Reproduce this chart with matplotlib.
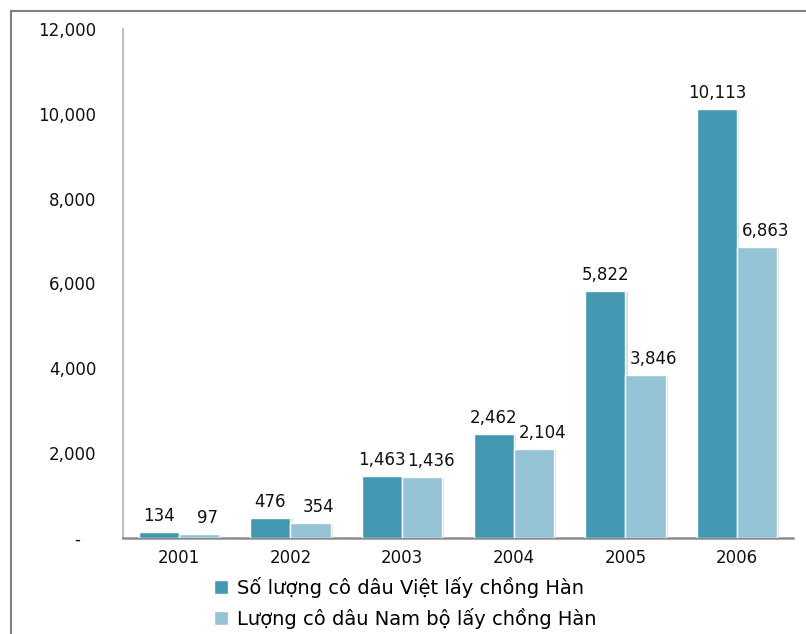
import matplotlib
matplotlib.use("Agg")
import matplotlib.pyplot as plt
import matplotlib.patheffects as pe
from matplotlib.lines import Line2D
from matplotlib.patches import Patch
import numpy as np

years = ["2001", "2002", "2003", "2004", "2005", "2006"]
viet = [134, 476, 1463, 2462, 5822, 10113]
nambo = [97, 354, 1436, 2104, 3846, 6863]
series_names = ["Số lượng cô dâu Việt lấy chồng Hàn",
                "Lượng cô dâu Nam bộ lấy chồng Hàn"]
yticks = [0, 2000, 4000, 6000, 8000, 10000, 12000]

c_dark = "#4397B0"
c_light = "#93C3D4"

plt.rcParams['font.family'] = ['DejaVu Sans']

W, H = 806, 634
fig = plt.figure(figsize=(W / 100, H / 100), dpi=100)
ax = fig.add_axes([123 / W, (H - 538) / H, (793 - 123) / W, (538 - 29) / H])

x = np.arange(len(years))
bw = 0.36
shadow = [pe.SimplePatchShadow(offset=(1.5, -1), shadow_rgbFace="#999999", alpha=0.35), pe.Normal()]
b1 = ax.bar(x - bw / 2, viet, bw, color=c_dark, edgecolor="white", linewidth=1, path_effects=shadow, zorder=3)
b2 = ax.bar(x + bw / 2, nambo, bw, color=c_light, edgecolor="white", linewidth=1, path_effects=shadow, zorder=3)

for rect, v in zip(b1, viet):
    ax.annotate(f"{v:,}", (rect.get_x() + rect.get_width() / 2, v), xytext=(0, 5),
                textcoords="offset points", ha="center", va="bottom", fontsize=12, color="#111111")
for rect, v in zip(b2, nambo):
    ax.annotate(f"{v:,}", (rect.get_x() + rect.get_width() / 2, v), xytext=(6, 5),
                textcoords="offset points", ha="center", va="bottom", fontsize=12, color="#111111")

ax.set_xlim(-0.5, len(years) - 0.5)
ax.set_ylim(0, 12000)
ax.set_yticks(yticks)
ax.set_yticklabels([("-   " if t == 0 else f"{t:,}") for t in yticks])
ax.set_xticks(x)
ax.set_xticklabels(years)
ax.tick_params(axis="y", length=0, pad=19, labelsize=12, labelcolor="#111111")
ax.tick_params(axis="x", length=0, pad=8, labelsize=12, labelcolor="#111111")

for s in ["top", "right"]:
    ax.spines[s].set_visible(False)
ax.spines["left"].set_color("#C0C0C0")
ax.spines["left"].set_linewidth(1.5)
ax.spines["bottom"].set_color("#8C8C8C")
ax.spines["bottom"].set_linewidth(1.8)

handles = [Patch(facecolor=c_dark, edgecolor="white"), Patch(facecolor=c_light, edgecolor="white")]
fig.legend(handles, series_names, loc="upper left", bbox_to_anchor=(214 / W, (H - 577) / H),
           frameon=False, fontsize=14, handlelength=0.7, handleheight=0.7, handletextpad=0.5,
           labelspacing=0.5, borderpad=0, borderaxespad=0)

# outer frame
fig.add_artist(Line2D([11 / W, 11 / W], [0, (H - 11) / H], transform=fig.transFigure, color="#808080", lw=1.5))
fig.add_artist(Line2D([11 / W, 1], [(H - 11) / H, (H - 11) / H], transform=fig.transFigure, color="#808080", lw=1.5))

fig.savefig("out.png", dpi=100)
